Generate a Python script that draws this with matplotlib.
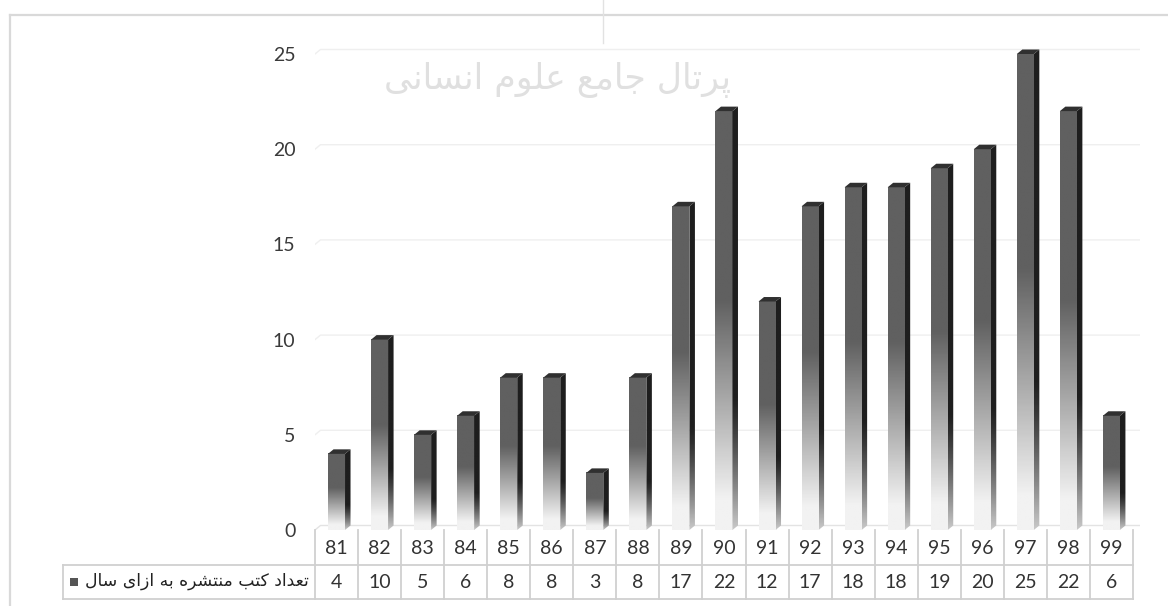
import numpy as np
import matplotlib
matplotlib.use("Agg")
import matplotlib.pyplot as plt
from matplotlib import transforms
from matplotlib.patches import Polygon, Rectangle
from matplotlib.lines import Line2D

# data
years = ["81", "82", "83", "84", "85", "86", "87", "88", "89", "90",
         "91", "92", "93", "94", "95", "96", "97", "98", "99"]
books = [4, 10, 5, 6, 8, 8, 3, 8, 17, 22, 12, 17, 18, 18, 19, 20, 25, 22, 6]
y_ticks = [0, 5, 10, 15, 20, 25]
series_label = "تعداد کتب منتشره به ازای سال"
watermark = "پرتال جامع علوم انسانی"

# crude arabic shaping (presentation forms) since matplotlib has no bidi/shaping
FORMS = {
    'ا': ('\uFE8D', '\uFE8E', None, None),
    'ب': ('\uFE8F', '\uFE90', '\uFE91', '\uFE92'),
    'پ': ('\uFB56', '\uFB57', '\uFB58', '\uFB59'),
    'ت': ('\uFE95', '\uFE96', '\uFE97', '\uFE98'),
    'ج': ('\uFE9D', '\uFE9E', '\uFE9F', '\uFEA0'),
    'د': ('\uFEA9', '\uFEAA', None, None),
    'ر': ('\uFEAD', '\uFEAE', None, None),
    'ز': ('\uFEAF', '\uFEB0', None, None),
    'س': ('\uFEB1', '\uFEB2', '\uFEB3', '\uFEB4'),
    'ش': ('\uFEB5', '\uFEB6', '\uFEB7', '\uFEB8'),
    'ع': ('\uFEC9', '\uFECA', '\uFECB', '\uFECC'),
    'ک': ('\uFB8E', '\uFB8F', '\uFB90', '\uFB91'),
    'ل': ('\uFEDD', '\uFEDE', '\uFEDF', '\uFEE0'),
    'م': ('\uFEE1', '\uFEE2', '\uFEE3', '\uFEE4'),
    'ن': ('\uFEE5', '\uFEE6', '\uFEE7', '\uFEE8'),
    'ه': ('\uFEE9', '\uFEEA', '\uFEEB', '\uFEEC'),
    'و': ('\uFEED', '\uFEEE', None, None),
    'ی': ('\uFBFC', '\uFBFD', '\uFBFE', '\uFBFF'),
}


def joins_left(c):
    return c in FORMS and FORMS[c][2] is not None


def shape(text):
    out = []
    for i, c in enumerate(text):
        if c not in FORMS:
            out.append(c)
            continue
        prev = text[i - 1] if i > 0 else ''
        nxt = text[i + 1] if i + 1 < len(text) else ''
        p = joins_left(prev)
        n = joins_left(c) and nxt in FORMS
        iso, fin, ini, med = FORMS[c]
        out.append(med if (p and n) else fin if p else ini if n else iso)
    return ''.join(reversed(out))


W, H = 1168, 606
fig = plt.figure(figsize=(W / 100, H / 100), dpi=100)


def fx(px):
    return px / W


def fy(px):
    return (H - px) / H


PXU = 43.05   # px per category
PXV = 19.04   # px per value unit
ax = fig.add_axes([fx(315), fy(530), fx(825), (530 - 40) / H])
ax.set_xlim(-0.5, -0.5 + 825 / PXU)
ax.set_ylim(0, 490 / PXV)
ax.set_zorder(2)
ax.patch.set_alpha(0)
for s in ax.spines.values():
    s.set_visible(False)
ax.set_xticks([])
ax.set_yticks(y_ticks)
ax.set_yticklabels([str(t) for t in y_ticks], fontfamily="Lato", fontsize=14, color="#3a3a3a")
ax.tick_params(axis="y", length=0, pad=14)

hw = 8.5 / PXU      # half width of front face
dx = 5.5 / PXU      # depth to the right
dy = 4.5 / PXV      # depth upwards
x_end = ax.get_xlim()[1]

# back wall gridlines + floor
for t in y_ticks:
    col = "#e3e3e3" if t == 0 else "#efefef"
    ax.plot([-0.5, -0.5 + dx, x_end], [t, t + dy, t + dy], color=col, lw=1, zorder=0)


def front_shade(t):
    # t = 0 at the top of the bar, 1 at the base
    v = np.where(t < 0.45, 96, 96 + (242 - 96) * np.clip((t - 0.45) / 0.48, 0, 1))
    return v


def side_shade(t):
    v = np.where(t < 0.68, 30, 30 + (200 - 30) * np.clip((t - 0.68) / 0.32, 0, 1) ** 1.3)
    return v


tt = np.linspace(1, 0, 200)[:, None]   # rows bottom -> top
front_img = front_shade(tt)
side_img = side_shade(tt)

for i, v in enumerate(books):
    x0, x1 = i - hw, i + hw
    im = ax.imshow(front_img, cmap="gray", vmin=0, vmax=255, origin="lower",
                   extent=[x0, x1, 0, v], aspect="auto", interpolation="bilinear", zorder=3)
    side = Polygon([(x1, 0), (x1 + dx, dy), (x1 + dx, v + dy), (x1, v)], closed=True,
                   facecolor="none", edgecolor="none")
    ax.add_patch(side)
    im2 = ax.imshow(side_img, cmap="gray", vmin=0, vmax=255, origin="lower",
                    extent=[x1, x1 + dx, 0, v + dy], aspect="auto", interpolation="bilinear", zorder=3)
    im2.set_clip_path(side)
    ax.add_patch(Polygon([(x0, v), (x1, v), (x1 + dx, v + dy), (x0 + dx, v + dy)], closed=True,
                         facecolor="#303030", edgecolor="none", zorder=4))

ax.set_xlim(-0.5, x_end)
ax.set_ylim(0, 490 / PXV)

# data table below the plot
bt = transforms.blended_transform_factory(ax.transData, fig.transFigure)
lc = "#d0d0d0"
n = len(years)
for k in range(n + 1):
    ax.add_line(Line2D([k - 0.5, k - 0.5], [fy(530), fy(599)], transform=bt,
                       color=lc, lw=1.3, clip_on=False))
for ypx in (565, 599):
    ax.add_line(Line2D([-0.5, n - 0.5], [fy(ypx), fy(ypx)], transform=bt,
                       color=lc, lw=1.3, clip_on=False))
    fig.add_artist(Line2D([fx(63), fx(315)], [fy(ypx), fy(ypx)], color=lc, lw=1.3))
fig.add_artist(Line2D([fx(63), fx(63)], [fy(565), fy(599)], color=lc, lw=1.3))

for i, (yr, v) in enumerate(zip(years, books)):
    ax.text(i, fy(548), yr, transform=bt, ha="center", va="center",
            fontfamily="Lato", fontsize=14, color="#333333", clip_on=False)
    ax.text(i, fy(582), str(v), transform=bt, ha="center", va="center",
            fontfamily="Lato", fontsize=14, color="#333333", clip_on=False)

fig.text(fx(309), fy(581), shape(series_label), ha="right", va="center",
         fontfamily="DejaVu Sans", fontsize=12.4, color="#222222")
fig.add_artist(Rectangle((fx(70), fy(586)), 8 / W, 8 / H, facecolor="#555555", edgecolor="none"))

# chart frame
fig.add_artist(Line2D([fx(10), 1.0], [fy(15), fy(15)], color="#d9d9d9", lw=1.6))
fig.add_artist(Line2D([fx(10), fx(10)], [fy(15), 0.0], color="#d9d9d9", lw=1.6))

# faint watermark
fig.text(fx(558), fy(80), shape(watermark), ha="center", va="center",
         fontfamily="DejaVu Sans", fontsize=25, color="#e0e0e0", zorder=0)
fig.add_artist(Line2D([fx(603), fx(603)], [fy(0), fy(43)], color="#e2e2e2", lw=1))

fig.savefig("out.png", dpi=100)
